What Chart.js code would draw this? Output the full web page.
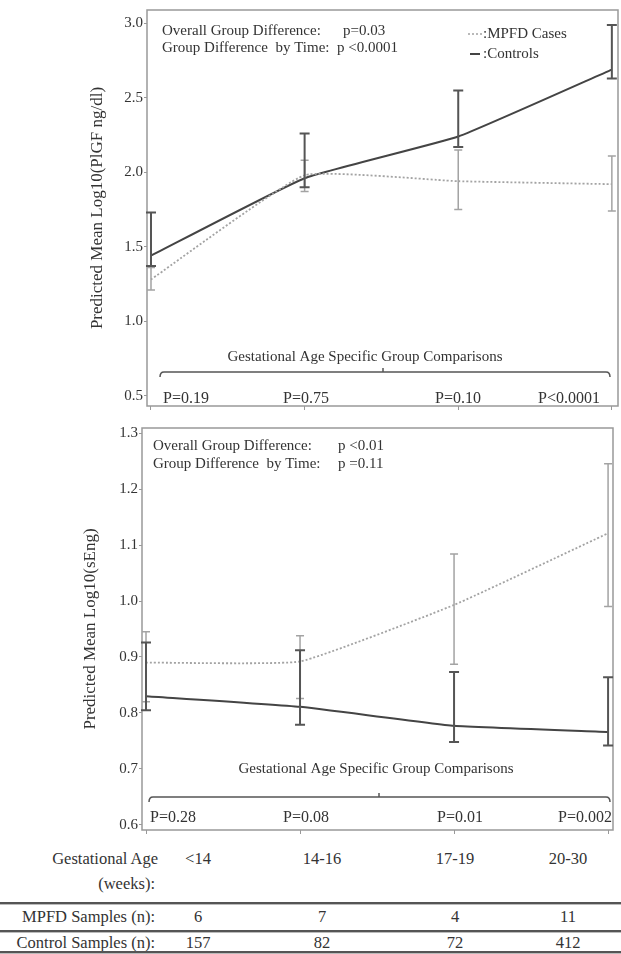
<!DOCTYPE html>
<html>
<head>
<meta charset="utf-8">
<script src="https://cdn.jsdelivr.net/npm/chart.js@4.4.1/dist/chart.umd.min.js"></script>
<style>
  body { margin: 0; background: #fff; font-family: 'Liberation Serif', 'DejaVu Serif', serif; color: #333; }
  #wrap { position: relative; width: 621px; height: 954px; overflow: hidden; }
  canvas { position: absolute; left: 0; }
  .t { position: absolute; font-family: 'Liberation Serif', 'DejaVu Serif', serif; font-size: 16.5px; white-space: nowrap; line-height: 18px; color: #333; }
  .r { text-align: right; }
  .c { transform: translateX(-50%); }
  .rule { position: absolute; left: 0; width: 621px; border-top: 2px solid #555; border-bottom: 1px solid #bbb; height: 0; }
</style>
</head>
<body>
<div id="wrap">
  <canvas id="plgf" width="621" height="416" style="top:0"></canvas>
  <canvas id="seng" width="621" height="422" style="top:418px"></canvas>
  <div id="table"></div>
</div>
<script>
// gestational age groups
var categories = ['<14', '14-16', '17-19', '20-30'];
var mpfdN = [6, 7, 4, 11];
var controlN = [157, 82, 72, 412];

// PlGF panel (log10 scale)
var plgfCases = [1.28, 1.98, 1.94, 1.92];
var plgfCasesLo = [1.21, 1.87, 1.75, 1.74];
var plgfCasesHi = [1.36, 2.08, 2.15, 2.11];
var plgfControls = [1.44, 1.96, 2.24, 2.69];
var plgfControlsLo = [1.37, 1.90, 2.17, 2.63];
var plgfControlsHi = [1.73, 2.26, 2.55, 2.99];
var plgfTicks = [0.5, 1.0, 1.5, 2.0, 2.5, 3.0];
var plgfPvals = ['P=0.19', 'P=0.75', 'P=0.10', 'P<0.0001'];

// sEng panel (log10 scale)
var sengCases = [0.89, 0.892, 0.993, 1.121];
var sengCasesLo = [0.82, 0.826, 0.887, 0.990];
var sengCasesHi = [0.945, 0.938, 1.084, 1.245];
var sengControls = [0.83, 0.811, 0.777, 0.766];
var sengControlsLo = [0.805, 0.779, 0.748, 0.742];
var sengControlsHi = [0.926, 0.912, 0.873, 0.864];
var sengTicks = [0.6, 0.7, 0.8, 0.9, 1.0, 1.1, 1.2, 1.3];
var sengPvals = ['P=0.28', 'P=0.08', 'P=0.01', 'P=0.002'];

var FONT = "'Liberation Serif', 'DejaVu Serif', serif";
var CASE_COL = '#a3a3a3';
var CTRL_COL = '#444';

function pts(arr) {
    return arr.map(function (v, i) { return { x: i, y: v }; });
}

// frame, error bars, notes and the comparison bracket
var extras = {
    id: 'extras',
    afterDatasetsDraw: function (chart, args, opts) {
        var ctx = chart.ctx, a = chart.chartArea;
        var xs = chart.scales.x, ys = chart.scales.y;
        ctx.save();
        ctx.strokeStyle = '#999';
        ctx.lineWidth = 1.5;
        ctx.strokeRect(a.left, a.top, a.right - a.left, a.bottom - a.top);

        opts.bars.forEach(function (b) {
            ctx.strokeStyle = b.color;
            ctx.lineWidth = b.width;
            b.lo.forEach(function (lo, i) {
                var px = xs.getPixelForValue(i);
                var p1 = ys.getPixelForValue(lo), p2 = ys.getPixelForValue(b.hi[i]);
                ctx.beginPath();
                ctx.moveTo(px, p1); ctx.lineTo(px, p2);
                ctx.moveTo(px - b.cap, p1); ctx.lineTo(px + b.cap, p1);
                ctx.moveTo(px - b.cap, p2); ctx.lineTo(px + b.cap, p2);
                ctx.stroke();
            });
        });

        // legend keys
        if (opts.legend) {
            var lg = opts.legend;
            ctx.setLineDash([2, 2]);
            ctx.strokeStyle = CASE_COL; ctx.lineWidth = 1.5;
            ctx.beginPath();
            ctx.moveTo(a.left + lg.dx, a.top + lg.dy1);
            ctx.lineTo(a.left + lg.dx + 14, a.top + lg.dy1);
            ctx.stroke();
            ctx.setLineDash([]);
            ctx.strokeStyle = CTRL_COL; ctx.lineWidth = 2;
            ctx.beginPath();
            ctx.moveTo(a.left + lg.dx + 2, a.top + lg.dy2);
            ctx.lineTo(a.left + lg.dx + 12, a.top + lg.dy2);
            ctx.stroke();
        }

        // bracket
        var br = opts.bracket;
        var by = a.top + br.dy, bl = a.left + br.l, brr = a.left + br.r;
        ctx.strokeStyle = '#555'; ctx.lineWidth = 1.5;
        ctx.beginPath();
        ctx.moveTo(bl, by + 5);
        ctx.quadraticCurveTo(bl, by, bl + 4, by);
        ctx.lineTo(brr - 4, by);
        ctx.quadraticCurveTo(brr, by, brr, by + 5);
        ctx.moveTo(a.left + br.mid, by);
        ctx.lineTo(a.left + br.mid, by - 4);
        ctx.stroke();

        ctx.fillStyle = '#333';
        ctx.textBaseline = 'middle';
        opts.notes.forEach(function (n) {
            ctx.font = (n.size || 15) + 'px ' + FONT;
            ctx.textAlign = n.align || 'left';
            ctx.fillText(n.t, a.left + n.dx, a.top + n.dy);
        });
        ctx.restore();
    }
};

function makeChart(id, o) {
    return new Chart(document.getElementById(id), {
        type: 'line',
        data: {
            datasets: [{
                label: 'MPFD Cases',
                data: pts(o.cases),
                borderColor: CASE_COL,
                borderWidth: 1.8,
                borderDash: [2, 2],
                pointRadius: 0,
                tension: 0.12
            }, {
                label: 'Controls',
                data: pts(o.controls),
                borderColor: CTRL_COL,
                borderWidth: 2,
                pointRadius: 0,
                tension: 0.12
            }]
        },
        options: {
            responsive: false,
            animation: false,
            layout: { padding: o.padding },
            plugins: {
                legend: { display: false },
                tooltip: { enabled: false },
                extras: {
                    bars: [
                        { lo: o.casesLo, hi: o.casesHi, color: CASE_COL, width: 1.5, cap: 4 },
                        { lo: o.controlsLo, hi: o.controlsHi, color: '#555', width: 2, cap: 5 }
                    ],
                    legend: o.legend,
                    bracket: o.bracket,
                    notes: o.notes
                }
            },
            scales: {
                x: {
                    type: 'linear',
                    min: o.xmin, max: o.xmax,
                    afterBuildTicks: function (s) { s.ticks = categories.map(function (c, i) { return { value: i }; }); },
                    afterFit: function (s) { s.height = 8; },
                    ticks: { display: false },
                    grid: { drawOnChartArea: false, tickLength: 4, color: '#999' },
                    border: { display: false }
                },
                y: {
                    min: o.ymin, max: o.ymax,
                    afterBuildTicks: function (s) { s.ticks = o.ticks.map(function (v) { return { value: v }; }); },
                    afterFit: function (s) { s.width = o.yw; },
                    ticks: {
                        color: '#333', padding: 1,
                        font: { family: FONT, size: 15 },
                        callback: function (v) { return Number(v).toFixed(1); }
                    },
                    grid: { drawOnChartArea: false, tickLength: 3, color: '#999' },
                    border: { display: false },
                    title: {
                        display: true, text: o.title, color: '#333',
                        font: { family: FONT, size: 17 },
                        padding: { top: o.titleX - 10, bottom: 0 }
                    }
                }
            }
        },
        plugins: [extras]
    });
}

makeChart('plgf', {
    cases: plgfCases, casesLo: plgfCasesLo, casesHi: plgfCasesHi,
    controls: plgfControls, controlsLo: plgfControlsLo, controlsHi: plgfControlsHi,
    ticks: plgfTicks, ymin: 0.43, ymax: 3.09, xmin: -0.026, xmax: 3.04,
    yw: 147, titleX: 97, padding: { top: 8, right: 3, left: 0, bottom: 0 },
    title: 'Predicted Mean Log10(PlGF ng/dl)',
    legend: { dx: 321, dy1: 24, dy2: 44 },
    bracket: { dy: 362, l: 13, r: 463, mid: 236 },
    notes: [
        { t: 'Overall Group Difference:', dx: 15, dy: 21 },
        { t: 'p=0.03', dx: 196, dy: 21 },
        { t: 'Group Difference  by Time:', dx: 15, dy: 38 },
        { t: 'p <0.0001', dx: 190, dy: 38 },
        { t: ':MPFD Cases', dx: 336, dy: 24 },
        { t: ':Controls', dx: 336, dy: 44 },
        { t: 'Gestational Age Specific Group Comparisons', dx: 218, dy: 347, align: 'center' },
        { t: plgfPvals[0], dx: 16, dy: 389, size: 16 },
        { t: plgfPvals[1], dx: 136, dy: 389, size: 16 },
        { t: plgfPvals[2], dx: 288, dy: 389, size: 16 },
        { t: plgfPvals[3], dx: 391, dy: 389, size: 16 }
    ]
});

makeChart('seng', {
    cases: sengCases, casesLo: sengCasesLo, casesHi: sengCasesHi,
    controls: sengControls, controlsLo: sengControlsLo, controlsHi: sengControlsHi,
    ticks: sengTicks, ymin: 0.591, ymax: 1.309, xmin: -0.026, xmax: 3.032,
    yw: 142, titleX: 90, padding: { top: 9, right: 8, left: 0, bottom: 0 },
    title: 'Predicted Mean Log10(sEng)',
    legend: null,
    bracket: { dy: 369, l: 7, r: 468, mid: 237 },
    notes: [
        { t: 'Overall Group Difference:', dx: 11, dy: 18 },
        { t: 'p <0.01', dx: 196, dy: 18 },
        { t: 'Group Difference  by Time:', dx: 11, dy: 36 },
        { t: 'p =0.11', dx: 196, dy: 36 },
        { t: 'Gestational Age Specific Group Comparisons', dx: 234, dy: 341, align: 'center' },
        { t: sengPvals[0], dx: 8, dy: 390, size: 16 },
        { t: sengPvals[1], dx: 141, dy: 390, size: 16 },
        { t: sengPvals[2], dx: 295, dy: 390, size: 16 },
        { t: sengPvals[3], dx: 416, dy: 390, size: 16 }
    ]
});

// sample size table under the charts
var colX = [198, 322, 455, 568];
var html = '';
html += '<div class="t r" style="right:463px;top:850px">Gestational Age</div>';
html += '<div class="t r" style="right:466px;top:875px">(weeks):</div>';
html += '<div class="rule" style="top:902px"></div>';
html += '<div class="t r" style="right:466px;top:908px">MPFD Samples (n):</div>';
html += '<div class="rule" style="top:930px"></div>';
html += '<div class="t r" style="right:466px;top:934px">Control Samples (n):</div>';
html += '<div class="rule" style="top:951px"></div>';
categories.forEach(function (c, i) {
    html += '<div class="t c" style="left:' + colX[i] + 'px;top:850px">' + c.replace('<', '&lt;') + '</div>';
    html += '<div class="t c" style="left:' + colX[i] + 'px;top:908px">' + mpfdN[i] + '</div>';
    html += '<div class="t c" style="left:' + colX[i] + 'px;top:934px">' + controlN[i] + '</div>';
});
document.getElementById('table').innerHTML = html;
</script>
</body>
</html>
